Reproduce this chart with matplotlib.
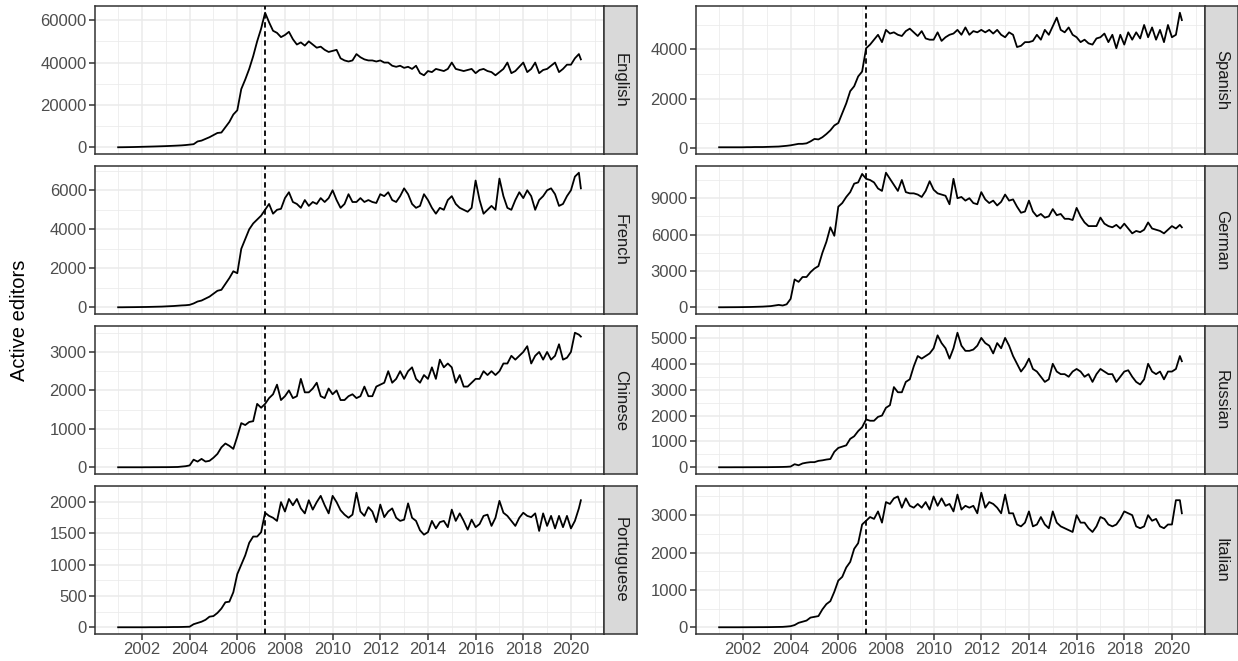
import numpy as np
import pandas as pd
import matplotlib
matplotlib.use("Agg")
import matplotlib.pyplot as plt

plt.rcParams["font.family"] = ["Liberation Sans", "DejaVu Sans"]

# every second month from Jan 2001, plus the last month (Jun 2020)
dates = list(pd.date_range("2001-01-01", "2020-05-01", freq="2MS")) + [pd.Timestamp("2020-06-01")]
years = np.array([d.year + (d.month - 1) / 12 for d in dates])

cutoff = 2007 + 2 / 12  # March 2007

english = [
    50, 70, 100, 130, 170, 220,
    270, 320, 370, 420, 480, 540,
    600, 680, 760, 850, 950, 1100,
    1300, 1500, 2800, 3200, 4000, 4800,
    5800, 6800, 7000, 9500, 12000, 15500,
    17500, 27500, 32000, 37000, 43000, 50000,
    56000, 63500, 59000, 55000, 54000, 52000,
    53000, 54500, 51000, 48500, 49500, 48000,
    50000, 48500, 47000, 47500, 46000, 45000,
    45500, 46000, 42000, 41000, 40500, 41000,
    44000, 42500, 41500, 41000, 41000, 40500,
    41000, 40000, 40000, 38500, 38000, 38500,
    37500, 38000, 37000, 38500, 35000, 34000,
    36000, 35500, 37000, 36500, 36000, 37000,
    40000, 37000, 36500, 36000, 36500, 37000,
    35000, 36500, 37000, 36000, 35500, 34000,
    35500, 37000, 40000, 35000, 36000, 38000,
    40000, 35500, 37000, 40000, 35000, 36500,
    37000, 38500, 40000, 35500, 37000, 39000,
    39000, 42000, 44000, 41500,
]

spanish = [
    10, 10, 10, 10, 10, 10,
    10, 15, 15, 20, 20, 20,
    25, 30, 35, 40, 55, 70,
    90, 120, 150, 150, 170, 250,
    350, 330, 420, 550, 700, 900,
    1000, 1400, 1800, 2300, 2500, 2900,
    3100, 4050, 4200, 4400, 4600, 4300,
    4800, 4650, 4700, 4600, 4550, 4750,
    4850, 4700, 4550, 4750, 4450, 4400,
    4400, 4700, 4350, 4500, 4600, 4650,
    4800, 4600, 4900, 4600, 4750, 4700,
    4800, 4700, 4800, 4650, 4800, 4600,
    4500, 4700, 4600, 4100, 4150, 4300,
    4300, 4350, 4600, 4400, 4800, 4600,
    4950, 5300, 4800, 4700, 4900, 4600,
    4500, 4300, 4400, 4250, 4200, 4450,
    4500, 4650, 4300, 4600, 4050, 4600,
    4200, 4700, 4400, 4700, 4450, 5000,
    4500, 4900, 4400, 4800, 4300, 5000,
    4500, 4600, 5500, 5200,
]

french = [
    5, 5, 8, 10, 12, 15,
    18, 20, 25, 30, 35, 40,
    50, 60, 70, 85, 100, 110,
    130, 200, 300, 350, 450, 550,
    700, 850, 900, 1200, 1500, 1850,
    1750, 3000, 3500, 4000, 4300, 4500,
    4700, 5000, 5300, 4800, 5000, 5050,
    5600, 5900, 5400, 5300, 5100, 5500,
    5200, 5400, 5300, 5600, 5400, 5600,
    6000, 5500, 5100, 5300, 5800, 5400,
    5400, 5600, 5400, 5500, 5400, 5350,
    5800, 5700, 5900, 5500, 5400, 5700,
    6100, 5800, 5300, 5100, 5200, 5800,
    5500, 5100, 4800, 5100, 5000, 5500,
    5700, 5300, 5100, 5000, 4900, 5100,
    6500, 5500, 4800, 5000, 5200, 5000,
    6600, 5700, 5100, 5000, 5500, 5900,
    5600, 6000, 5700, 5000, 5500, 5700,
    6000, 6100, 5800, 5200, 5300, 5700,
    6000, 6700, 6900, 6100,
]

german = [
    5, 5, 8, 10, 12, 15,
    20, 25, 30, 40, 50, 60,
    80, 100, 150, 200, 150, 250,
    700, 2300, 2100, 2500, 2500, 2900,
    3200, 3400, 4500, 5400, 6600, 5900,
    8300, 8600, 9100, 9500, 10200, 10300,
    11000, 10600, 10500, 10300, 9800, 9600,
    11100, 10600, 10100, 9600, 10500, 9500,
    9400, 9400, 9300, 9100, 9600, 10400,
    9700, 9400, 9300, 9200, 8500, 10600,
    9000, 9100, 8800, 9000, 8600, 8500,
    9500, 8900, 8600, 8800, 8400, 8700,
    9300, 8800, 8900, 8300, 7800, 7900,
    8800, 7900, 7500, 7700, 7400, 7500,
    8100, 7600, 7700, 7300, 7300, 7200,
    8200, 7500, 7000, 6700, 6700, 6700,
    7400, 6900, 6700, 6600, 6800, 6500,
    6900, 6500, 6100, 6300, 6200, 6400,
    7000, 6500, 6400, 6300, 6100, 6400,
    6700, 6500, 6800, 6600,
]

chinese = [
    2, 2, 2, 2, 2, 2,
    2, 3, 3, 4, 4, 5,
    5, 6, 8, 10, 20, 30,
    50, 200, 150, 220, 150, 170,
    250, 350, 520, 620, 560, 480,
    800, 1150, 1100, 1180, 1200, 1650,
    1550, 1650, 1800, 1900, 2150, 1750,
    1850, 2000, 1800, 1850, 2300, 1950,
    1950, 2050, 2200, 1850, 1800, 2050,
    1900, 2000, 1750, 1750, 1850, 1900,
    1800, 1850, 2100, 1850, 1850, 2100,
    2150, 2200, 2500, 2200, 2300, 2500,
    2300, 2500, 2600, 2300, 2200, 2400,
    2300, 2600, 2300, 2800, 2600, 2700,
    2600, 2200, 2400, 2100, 2100, 2200,
    2300, 2300, 2500, 2400, 2500, 2400,
    2500, 2700, 2700, 2900, 2800, 2900,
    3000, 3150, 2700, 2900, 3000, 2800,
    3000, 2800, 2900, 3200, 2800, 2850,
    3000, 3500, 3450, 3400,
]

russian = [
    2, 2, 2, 2, 3, 3,
    3, 4, 4, 5, 5, 6,
    6, 8, 10, 12, 15, 20,
    30, 120, 80, 150, 180, 200,
    200, 250, 270, 300, 320, 600,
    750, 800, 850, 1100, 1200, 1400,
    1550, 1850, 1800, 1800, 1950, 2000,
    2300, 2400, 3100, 2900, 2900, 3300,
    3400, 3900, 4300, 4200, 4300, 4400,
    4600, 5100, 4800, 4600, 4200, 4600,
    5200, 4700, 4500, 4500, 4550, 4700,
    5000, 4800, 4700, 4400, 4800, 4600,
    5000, 4700, 4300, 4000, 3700, 3900,
    4200, 3800, 3700, 3500, 3300, 3400,
    4000, 3700, 3600, 3600, 3500, 3700,
    3800, 3700, 3500, 3600, 3300, 3600,
    3800, 3700, 3600, 3600, 3300, 3500,
    3700, 3750, 3500, 3300, 3200, 3400,
    4000, 3700, 3600, 3700, 3400, 3700,
    3700, 3800, 4300, 4100,
]

portuguese = [
    1, 1, 1, 1, 1, 1,
    1, 1, 2, 2, 2, 3,
    3, 4, 5, 5, 6, 8,
    10, 50, 70, 90, 120, 170,
    180, 230, 300, 400, 410, 560,
    850, 1000, 1150, 1350, 1450, 1450,
    1520, 1830, 1780, 1750, 1700, 2000,
    1850, 2050, 1950, 2050, 1900, 1820,
    2030, 1880, 2000, 2100, 1950, 1820,
    2100, 2000, 1870, 1800, 1750, 1800,
    2150, 1850, 1780, 1920, 1850, 1680,
    1960, 1760, 1850, 1900, 1750, 1700,
    1720, 1980, 1750, 1700, 1550, 1480,
    1520, 1700, 1580, 1680, 1700, 1600,
    1880, 1700, 1820, 1700, 1560, 1720,
    1600, 1650, 1780, 1800, 1620, 1750,
    2020, 1830, 1780, 1700, 1620, 1750,
    1830, 1780, 1760, 1820, 1540, 1820,
    1620, 1780, 1580, 1780, 1600, 1780,
    1580, 1700, 1900, 2030,
]

italian = [
    1, 1, 1, 1, 1, 1,
    2, 2, 3, 3, 4, 4,
    5, 6, 8, 10, 12, 20,
    30, 60, 120, 150, 180, 260,
    280, 300, 480, 620, 700, 950,
    1250, 1350, 1600, 1750, 2100, 2250,
    2750, 2850, 2950, 2900, 3100, 2800,
    3350, 3300, 3450, 3500, 3200, 3450,
    3250, 3200, 3300, 3200, 3350, 3150,
    3500, 3250, 3450, 3250, 3300, 3100,
    3550, 3150, 3250, 3200, 3250, 3050,
    3600, 3200, 3350, 3300, 3200, 3050,
    3550, 3050, 3050, 2750, 2700, 2800,
    3100, 2700, 2750, 2950, 2750, 2650,
    3100, 2800, 2700, 2650, 2600, 2550,
    3000, 2800, 2800, 2650, 2550, 2700,
    2950, 2900, 2750, 2700, 2750, 2900,
    3100, 3050, 3000, 2700, 2650, 2700,
    3000, 2850, 2900, 2700, 2650, 2750,
    2750, 3400, 3400, 3050,
]

languages = ["English", "Spanish", "French", "German",
             "Chinese", "Russian", "Portuguese", "Italian"]
series = [english, spanish, french, german, chinese, russian, portuguese, italian]
y_steps = [20000, 2000, 2000, 3000, 1000, 1000, 500, 1000]
x_major = list(range(2002, 2021, 2))
x_minor = list(range(2001, 2022, 2))

W, H = 1238, 661
fig = plt.figure(figsize=(W / 100, H / 100), dpi=100)

cols = [(95, 604), (696, 1205)]
rows = [(6, 154), (166, 314), (326, 474), (486, 634)]
strip_w = 33
dark = "#333333"

for i, (name, vals, step) in enumerate(zip(languages, series, y_steps)):
    r, c = divmod(i, 2)
    x0, x1 = cols[c]
    y0, y1 = rows[r]
    ax = fig.add_axes([x0 / W, 1 - y1 / H, (x1 - x0) / W, (y1 - y0) / H])
    ax.plot(years, vals, color="black", lw=1.3, zorder=3)
    ax.axvline(cutoff, color="black", lw=1.3, ls=(0, (3, 2)), zorder=3)

    ax.set_xticks(x_major)
    ax.set_xticks(x_minor, minor=True)
    ax.yaxis.set_major_locator(plt.MultipleLocator(step))
    ax.yaxis.set_minor_locator(plt.MultipleLocator(step / 2))
    ax.set_axisbelow(True)
    ax.grid(which="major", color="#EBEBEB", lw=1.1)
    ax.grid(which="minor", color="#EBEBEB", lw=0.55)
    for s in ax.spines.values():
        s.set_color(dark)
        s.set_linewidth(1.1)
    ax.tick_params(which="major", length=4, width=1.1, color=dark,
                   labelsize=12, labelcolor="#4D4D4D", pad=2)
    ax.tick_params(which="minor", length=0)
    if r < 3:
        ax.tick_params(axis="x", which="both", length=0, labelbottom=False)

    sax = fig.add_axes([x1 / W, 1 - y1 / H, strip_w / W, (y1 - y0) / H])
    sax.set_facecolor("#D9D9D9")
    sax.set_xticks([])
    sax.set_yticks([])
    for s in sax.spines.values():
        s.set_color(dark)
        s.set_linewidth(1.1)
    sax.text(0.5, 0.5, name, rotation=-90, ha="center", va="center",
             fontsize=12, color="#1A1A1A", transform=sax.transAxes)

fig.text(20 / W, 1 - 320 / H, "Active editors", rotation=90,
         ha="center", va="center", fontsize=14.5, color="black")

fig.savefig("out.png", dpi=100)
